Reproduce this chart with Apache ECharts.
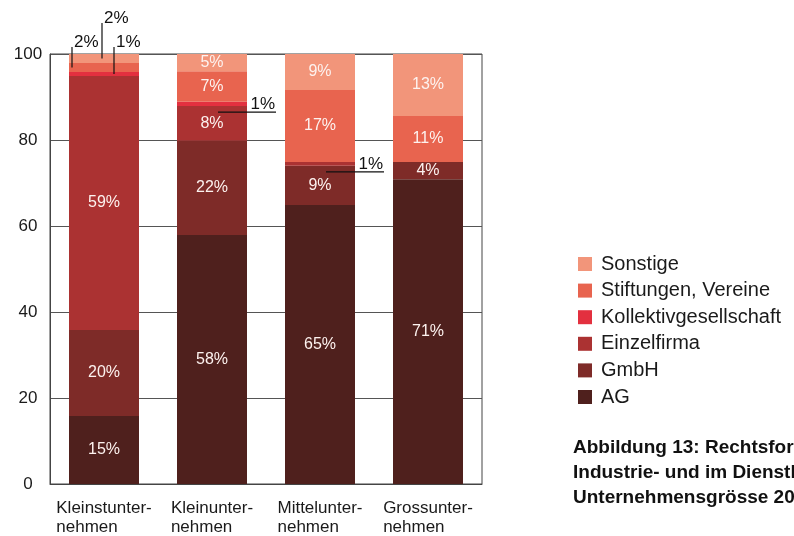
<!DOCTYPE html>
<html>
<head>
<meta charset="utf-8">
<script src="https://cdn.jsdelivr.net/npm/echarts@6/dist/echarts.min.js"></script>
<style>
html,body{margin:0;padding:0;background:#fff;}
#c{width:794px;height:536px;}
</style>
</head>
<body>
<div id="c"></div>
<script>
var categories = ['Kleinstunter-\nnehmen', 'Kleinunter-\nnehmen', 'Mittelunter-\nnehmen', 'Grossunter-\nnehmen'];
var seriesNames = ['AG', 'GmbH', 'Einzelfirma', 'Kollektivgesellschaft', 'Stiftungen, Vereine', 'Sonstige'];
var legendOrder = ['Sonstige', 'Stiftungen, Vereine', 'Kollektivgesellschaft', 'Einzelfirma', 'GmbH', 'AG'];
// segment heights as drawn (percent of companies)
var valAG         = [15.8, 57.9, 64.9, 70.9];
var valGmbH       = [20.0, 21.9, 9.1, 4.0];
var valEinzel     = [59.1, 8.1, 0.9, 0];
var valKollektiv  = [0.9, 1.0, 0, 0];
var valStiftungen = [2.1, 7.1, 16.7, 10.7];
var valSonstige   = [2.1, 4.0, 8.4, 14.4];
// printed labels
var labAG         = ['15%', '58%', '65%', '71%'];
var labGmbH       = ['20%', '22%', '9%', '4%'];
var labEinzel     = ['59%', '8%', '', ''];
var labKollektiv  = ['', '', '', ''];
var labStiftungen = ['', '7%', '17%', '11%'];
var labSonstige   = ['', '5%', '9%', '13%'];
var yTicks = [0, 20, 40, 60, 80, 100];
var caption = ['Abbildung 13: Rechtsformen im', 'Industrie- und im Dienstleistungssektor nach', 'Unternehmensgrösse 2008'];
// callouts: [seriesIndex, categoryIndex, text, style]
var callouts = [
  [4, 0, '2%', 'vlow'],
  [5, 0, '2%', 'vhigh'],
  [3, 0, '1%', 'vlow'],
  [3, 1, '1%', 'under'],
  [2, 2, '1%', 'under']
];

var colors = ['#4f201d', '#7e2b28', '#ab3232', '#e3303f', '#e8644f', '#f2957a'];
var allVals = [valAG, valGmbH, valEinzel, valKollektiv, valStiftungen, valSonstige];
var allLabs = [labAG, labGmbH, labEinzel, labKollektiv, labStiftungen, labSonstige];
var FONT = "'Liberation Sans', Arial, sans-serif";
var BARW = 70;

var chart = echarts.init(document.getElementById('c'), null, {renderer: 'canvas'});

var series = seriesNames.map(function (name, si) {
  var labs = allLabs[si];
  return {
    name: name,
    type: 'bar',
    stack: 'total',
    barWidth: BARW,
    itemStyle: {color: colors[si]},
    label: {
      show: true,
      position: 'inside',
      color: '#fdf2ef',
      fontFamily: FONT,
      fontSize: 16,
      formatter: function (p) { return labs[p.dataIndex]; }
    },
    data: allVals[si].map(function (v) { return v === 0 ? null : v; })
  };
});

chart.setOption({
  animation: false,
  backgroundColor: '#fff',
  textStyle: {fontFamily: FONT},
  grid: {left: 50, right: 312, top: 54, bottom: 52, show: true, borderColor: '#444', borderWidth: 1, backgroundColor: 'transparent'},
  legend: {
    orient: 'vertical',
    left: 573,
    top: 249,
    itemWidth: 14,
    itemHeight: 14,
    itemGap: 6.6,
    icon: 'rect',
    data: legendOrder,
    textStyle: {fontFamily: FONT, fontSize: 20, color: '#1a1a1a', padding: [0, 0, 0, 4]}
  },
  xAxis: {
    type: 'category',
    data: categories,
    axisLine: {show: true, lineStyle: {color: '#444'}},
    axisTick: {show: false},
    axisLabel: {
      margin: 15,
      align: 'center',
      formatter: function (v) { return v.split('\n').map(function (s) { return '{l|' + s + '}'; }).join('\n'); },
      rich: {l: {align: 'left', fontFamily: FONT, fontSize: 17, lineHeight: 19, color: '#1a1a1a'}}
    }
  },
  yAxis: {
    type: 'value',
    min: yTicks[0],
    max: yTicks[yTicks.length - 1],
    interval: 20,
    axisLine: {show: true, lineStyle: {color: '#444'}},
    axisTick: {show: false},
    splitLine: {show: true, lineStyle: {color: '#555', width: 1}},
    axisLabel: {align: 'center', margin: 22, fontFamily: FONT, fontSize: 17, color: '#1a1a1a'}
  },
  series: series
});

// build callouts from data positions
function cum(si, ci) { var s = 0; for (var k = 0; k < si; k++) s += allVals[k][ci]; return s; }
function px(ci, v) { return chart.convertToPixel({seriesIndex: 0}, [ci, v]); }
var g = [];
var topPx = px(0, 100)[1];
callouts.forEach(function (c) {
  var si = c[0], ci = c[1], txt = c[2], kind = c[3];
  var base = cum(si, ci), top = base + allVals[si][ci];
  var center = px(ci, base);
  var cx = center[0];
  if (kind === 'under') {
    var y = px(ci, base)[1] + 6;
    var x1 = cx + 6, x2 = cx + 64;
    g.push({type: 'line', shape: {x1: x1, y1: y, x2: x2, y2: y}, style: {stroke: '#111', lineWidth: 1.2}, z: 100});
    g.push({type: 'text', x: x2 - 1, y: y + 1, style: {text: txt, textAlign: 'right', textVerticalAlign: 'bottom', font: '17px ' + FONT, fill: '#111'}, z: 100});
  } else {
    var mid = px(ci, (base + top) / 2)[1];
    var off = si === 4 ? -32 : (si === 5 ? -2 : 10);
    var rise = kind === 'vhigh' ? 31 : 7;
    var lx = cx + off;
    var ly = topPx - rise;
    g.push({type: 'line', shape: {x1: lx, y1: ly, x2: lx, y2: mid}, style: {stroke: '#111', lineWidth: 1.2}, z: 100});
    g.push({type: 'text', x: lx + 2, y: ly + 4, style: {text: txt, textAlign: 'left', textVerticalAlign: 'bottom', font: '17px ' + FONT, fill: '#111'}, z: 100});
  }
});
g.push({type: 'text', left: 573, top: 435, style: {text: caption.join('\n'), font: 'bold 19px ' + FONT, fill: '#111', lineHeight: 25}, z: 100});
chart.setOption({graphic: g});
</script>
</body>
</html>
